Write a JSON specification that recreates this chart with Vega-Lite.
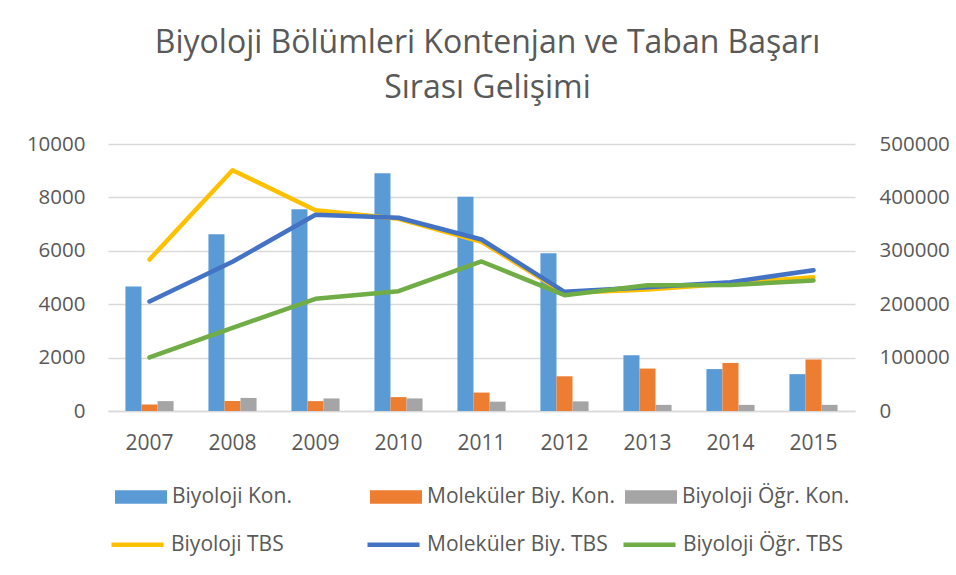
{
  "$schema": "https://vega.github.io/schema/vega-lite/v6.json",
  "width": 747,
  "height": 267,
  "autosize": {"type": "none"},
  "padding": {"left": 108, "top": 144, "right": 101, "bottom": 164},
  "background": "white",
  "config": {
    "view": {"stroke": null},
    "font": "Open Sans",
    "axis": {"labelFont": "Open Sans", "labelColor": "#595959", "ticks": false, "title": null},
    "legend": {"labelFont": "Open Sans", "labelColor": "#595959", "labelFontSize": 21, "labelLimit": 400, "padding": 0}
  },
  "title": {
    "text": ["Biyoloji Bölümleri Kontenjan ve Taban Başarı", "Sırası Gelişimi"],
    "font": "Open Sans",
    "fontSize": 32,
    "fontWeight": "normal",
    "color": "#595959",
    "anchor": "middle",
    "lineHeight": 45,
    "offset": 29,
    "dx": 6
  },
  "datasets": {
    "bars": [
      {"year": "2007", "series": "Biyoloji Kon.", "value": 4660},
      {"year": "2008", "series": "Biyoloji Kon.", "value": 6620},
      {"year": "2009", "series": "Biyoloji Kon.", "value": 7560},
      {"year": "2010", "series": "Biyoloji Kon.", "value": 8900},
      {"year": "2011", "series": "Biyoloji Kon.", "value": 8020},
      {"year": "2012", "series": "Biyoloji Kon.", "value": 5910},
      {"year": "2013", "series": "Biyoloji Kon.", "value": 2090},
      {"year": "2014", "series": "Biyoloji Kon.", "value": 1570},
      {"year": "2015", "series": "Biyoloji Kon.", "value": 1380},
      {"year": "2007", "series": "Moleküler Biy. Kon.", "value": 240},
      {"year": "2008", "series": "Moleküler Biy. Kon.", "value": 370},
      {"year": "2009", "series": "Moleküler Biy. Kon.", "value": 370},
      {"year": "2010", "series": "Moleküler Biy. Kon.", "value": 520},
      {"year": "2011", "series": "Moleküler Biy. Kon.", "value": 690},
      {"year": "2012", "series": "Moleküler Biy. Kon.", "value": 1300},
      {"year": "2013", "series": "Moleküler Biy. Kon.", "value": 1590},
      {"year": "2014", "series": "Moleküler Biy. Kon.", "value": 1800},
      {"year": "2015", "series": "Moleküler Biy. Kon.", "value": 1930},
      {"year": "2007", "series": "Biyoloji Öğr. Kon.", "value": 370},
      {"year": "2008", "series": "Biyoloji Öğr. Kon.", "value": 490},
      {"year": "2009", "series": "Biyoloji Öğr. Kon.", "value": 470},
      {"year": "2010", "series": "Biyoloji Öğr. Kon.", "value": 470},
      {"year": "2011", "series": "Biyoloji Öğr. Kon.", "value": 350},
      {"year": "2012", "series": "Biyoloji Öğr. Kon.", "value": 360},
      {"year": "2013", "series": "Biyoloji Öğr. Kon.", "value": 230},
      {"year": "2014", "series": "Biyoloji Öğr. Kon.", "value": 230},
      {"year": "2015", "series": "Biyoloji Öğr. Kon.", "value": 230}
    ],
    "lines": [
      {"year": "2007", "series": "Biyoloji TBS", "value": 283700},
      {"year": "2008", "series": "Biyoloji TBS", "value": 450900},
      {"year": "2009", "series": "Biyoloji TBS", "value": 376000},
      {"year": "2010", "series": "Biyoloji TBS", "value": 360000},
      {"year": "2011", "series": "Biyoloji TBS", "value": 317000},
      {"year": "2012", "series": "Biyoloji TBS", "value": 221000},
      {"year": "2013", "series": "Biyoloji TBS", "value": 227500},
      {"year": "2014", "series": "Biyoloji TBS", "value": 238700},
      {"year": "2015", "series": "Biyoloji TBS", "value": 250600},
      {"year": "2007", "series": "Moleküler Biy. TBS", "value": 205000},
      {"year": "2008", "series": "Moleküler Biy. TBS", "value": 279400},
      {"year": "2009", "series": "Moleküler Biy. TBS", "value": 367400},
      {"year": "2010", "series": "Moleküler Biy. TBS", "value": 361800},
      {"year": "2011", "series": "Moleküler Biy. TBS", "value": 321200},
      {"year": "2012", "series": "Moleküler Biy. TBS", "value": 223200},
      {"year": "2013", "series": "Moleküler Biy. TBS", "value": 231800},
      {"year": "2014", "series": "Moleküler Biy. TBS", "value": 241200},
      {"year": "2015", "series": "Moleküler Biy. TBS", "value": 263700},
      {"year": "2007", "series": "Biyoloji Öğr. TBS", "value": 100200},
      {"year": "2008", "series": "Biyoloji Öğr. TBS", "value": 155800},
      {"year": "2009", "series": "Biyoloji Öğr. TBS", "value": 210100},
      {"year": "2010", "series": "Biyoloji Öğr. TBS", "value": 224300},
      {"year": "2011", "series": "Biyoloji Öğr. TBS", "value": 280000},
      {"year": "2012", "series": "Biyoloji Öğr. TBS", "value": 216900},
      {"year": "2013", "series": "Biyoloji Öğr. TBS", "value": 235600},
      {"year": "2014", "series": "Biyoloji Öğr. TBS", "value": 236000},
      {"year": "2015", "series": "Biyoloji Öğr. TBS", "value": 244400}
    ]
  },
  "layer": [
    {
      "data": {"name": "bars"},
      "mark": {"type": "bar"},
      "encoding": {
        "x": {
          "field": "year", "type": "nominal",
          "scale": {"type": "band", "paddingInner": 0.42, "paddingOuter": 0.21},
          "axis": {"labelAngle": 0, "labelFontSize": 21, "labelPadding": 21, "domainColor": "#D9D9D9", "domainWidth": 1.3, "grid": false}
        },
        "xOffset": {
          "field": "series", "type": "nominal",
          "sort": ["Biyoloji Kon.", "Moleküler Biy. Kon.", "Biyoloji Öğr. Kon."],
          "scale": {"paddingInner": 0, "paddingOuter": 0}
        },
        "y": {
          "field": "value", "type": "quantitative",
          "scale": {"domain": [0, 10000], "nice": false},
          "axis": {"values": [0, 2000, 4000, 6000, 8000, 10000], "labelFontSize": 20.5, "labelPadding": 23, "domain": false, "grid": true, "gridColor": "#D9D9D9", "gridWidth": 1.3, "format": "d"}
        },
        "fill": {
          "field": "series", "type": "nominal",
          "scale": {"domain": ["Biyoloji Kon.", "Moleküler Biy. Kon.", "Biyoloji Öğr. Kon."], "range": ["#5B9BD5", "#ED7D31", "#A5A5A5"]},
          "legend": {
            "title": null, "orient": "none", "legendX": 7, "legendY": 327,
            "direction": "horizontal", "columns": 3, "gridAlign": "all", "columnPadding": 10,
            "symbolType": "M-1,-0.256H1V0.256H-1Z", "symbolSize": 2704, "symbolStrokeWidth": 0, "symbolOpacity": 1, "labelOffset": 5
          }
        }
      }
    },
    {
      "data": {"name": "lines"},
      "encoding": {
        "x": {"field": "year", "type": "nominal"},
        "y": {
          "field": "value", "type": "quantitative",
          "scale": {"domain": [0, 500000], "nice": false},
          "axis": {"orient": "right", "values": [0, 100000, 200000, 300000, 400000, 500000], "labelFontSize": 20.5, "labelPadding": 24, "domain": false, "grid": false, "format": "d"}
        },
        "stroke": {
          "field": "series", "type": "nominal",
          "scale": {"domain": ["Biyoloji TBS", "Moleküler Biy. TBS", "Biyoloji Öğr. TBS"], "range": ["#FFC000", "#4472C4", "#70AD47"]},
          "legend": {
            "title": null, "orient": "none", "legendX": 1, "legendY": 372,
            "direction": "horizontal", "columns": 3, "gridAlign": "all", "columnPadding": 6,
            "symbolType": "stroke", "symbolSize": 2704, "symbolStrokeWidth": 4.5, "labelOffset": 5
          }
        }
      },
      "layer": [
        {"transform": [{"filter": "datum.series === 'Biyoloji TBS'"}], "mark": {"type": "line", "strokeWidth": 4.5, "strokeCap": "round", "strokeJoin": "round"}},
        {"transform": [{"filter": "datum.series === 'Moleküler Biy. TBS'"}], "mark": {"type": "line", "strokeWidth": 4.5, "strokeCap": "round", "strokeJoin": "round"}},
        {"transform": [{"filter": "datum.series === 'Biyoloji Öğr. TBS'"}], "mark": {"type": "line", "strokeWidth": 4.5, "strokeCap": "round", "strokeJoin": "round"}}
      ]
    }
  ],
  "resolve": {"scale": {"y": "independent"}}
}
